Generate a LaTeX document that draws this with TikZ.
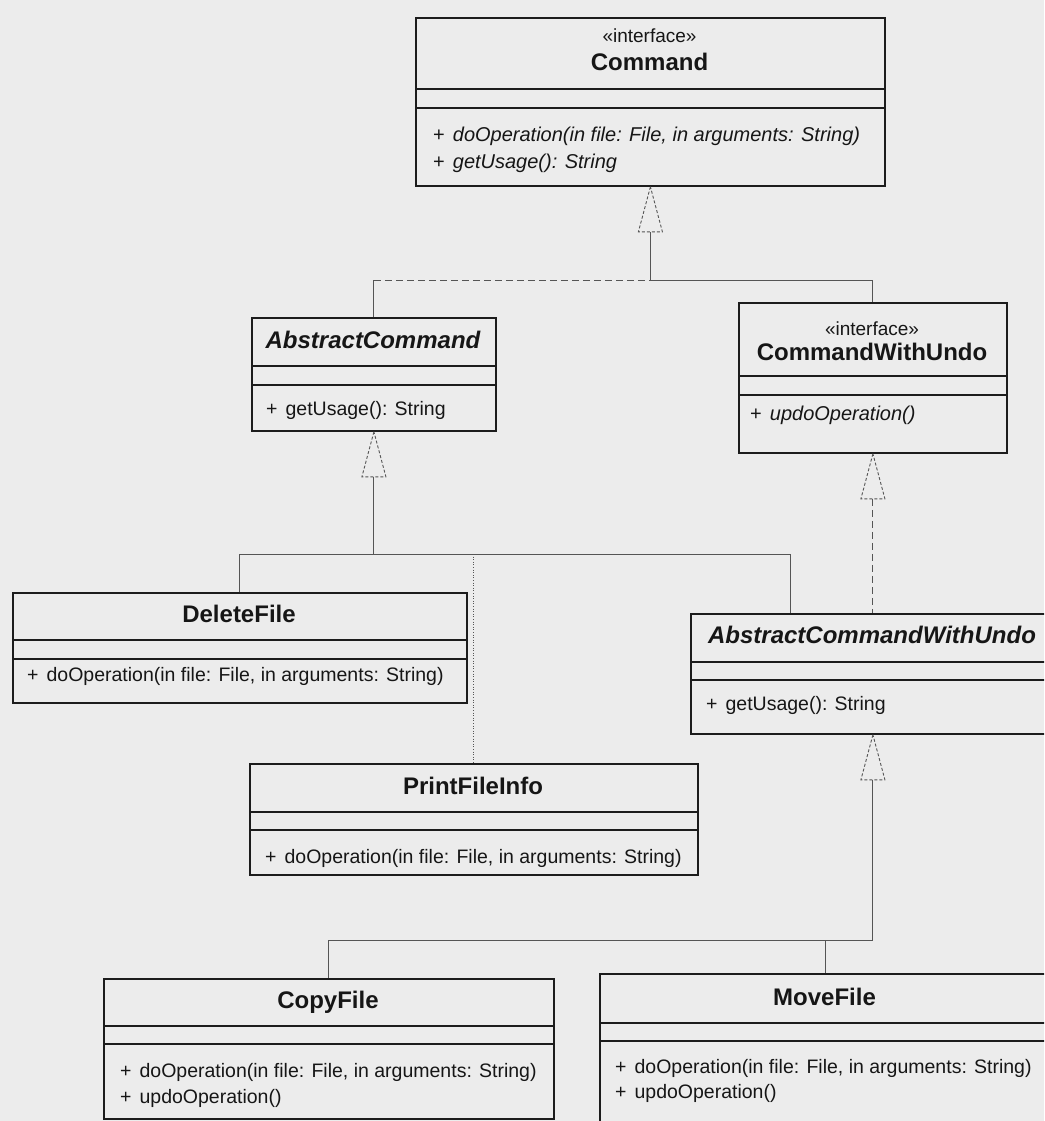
\documentclass[tikz,border=0pt]{standalone}
\usepackage{fontspec}
\setmainfont{Liberation Sans}
\usetikzlibrary{calc}
\definecolor{bgcol}{RGB}{236,236,236}
\definecolor{boxcol}{RGB}{28,28,28}
\definecolor{txtcol}{RGB}{22,22,22}
\definecolor{conncol}{RGB}{85,85,85}
\newcommand\umlbox[7]{%
  \node[classbox, minimum width={(#4-#2)*1pt}, minimum height={(#5-#3)*1pt}] (#1) at (#2,#3) {};
  \draw[compline] (#2,#6) -- (#4,#6);
  \draw[compline] (#2,#7) -- (#4,#7);
}
\newcommand\gentri[1]{\draw[tri] (#1.south) -- ++(-12,45) -- ++(24,0) -- cycle;}
\begin{document}
\begin{tikzpicture}[x=1pt,y=-1pt,
  classbox/.style={draw=boxcol, line width=1.8pt, inner sep=0pt, anchor=north west},
  compline/.style={draw=boxcol, line width=1.5pt},
  conn/.style={draw=conncol, line width=0.9pt},
  dashconn/.style={conn, dash pattern=on 7pt off 4pt},
  dotconn/.style={conn, dash pattern=on 1pt off 1.6pt},
  tri/.style={draw=conncol, line width=0.9pt, dash pattern=on 3pt off 2pt, fill=bgcol},
  nm/.style={font=\fontsize{24}{28}\selectfont\bfseries, anchor=base, text=txtcol, inner sep=0pt},
  abnm/.style={font=\fontsize{24}{28}\selectfont\bfseries\itshape, anchor=base, text=txtcol, inner sep=0pt},
  st/.style={font=\fontsize{19}{22}\selectfont, anchor=base, text=txtcol, inner sep=0pt},
  op/.style={font=\fontsize{19.5}{22}\selectfont, anchor=base west, text=txtcol, inner sep=0pt},
  iop/.style={font=\fontsize{20}{22}\selectfont, anchor=base west, text=txtcol, inner sep=0pt}
]
\useasboundingbox (0,0) rectangle (1044,1121);
\fill[bgcol] (0,0) rectangle (1044,1121);
\clip (0,0) rectangle (1044,1121);

% class boxes
\umlbox{Cmd}{415}{17}{884}{185}{89}{108}
\umlbox{AC}{251}{317}{495}{430}{366}{385}
\umlbox{CWU}{738}{302}{1006}{452}{376}{395}
\umlbox{ACWU}{690}{613}{1054}{733}{662}{680}
\umlbox{DF}{12}{592}{466}{702}{640}{659}
\umlbox{PFI}{249}{763}{697}{874}{812}{830}
\umlbox{CF}{103}{978}{553}{1118}{1026}{1044}
\umlbox{MF}{599}{973}{1050}{1135}{1023}{1041}

% texts
\node[st] (cmdst) at (649.5,43) {«interface»};
\node[nm] (cmdnm) at (649.5,71) {Command};
\node[iop] (cmdop1) at (433,142) {\upshape+\hspace{8pt}\itshape doOperation(in file: File, in arguments: String)};
\node[iop] (cmdop2) at (433,168) {\upshape+\hspace{8pt}\itshape getUsage(): String};

\node[abnm] (acnm) at (373,348) {AbstractCommand};
\node[op] (acop) at (266,415) {+\hspace{8pt}getUsage(): String};

\node[st] (cwust) at (872,335) {«interface»};
\node[nm] (cwunm) at (872,360) {CommandWithUndo};
\node[iop] (cwuop) at (750,420) {\upshape+\hspace{8pt}\itshape updoOperation()};

\node[abnm] (acwunm) at (872,643) {AbstractCommandWithUndo};
\node[op] (acwuop) at (706,710) {+\hspace{8pt}getUsage(): String};

\node[nm] (dfnm) at (239,622) {DeleteFile};
\node[op] (dfop) at (27,681) {+\hspace{8pt}doOperation(in file: File, in arguments: String)};

\node[nm] (pfinm) at (473,794) {PrintFileInfo};
\node[op] (pfiop) at (265,863) {+\hspace{8pt}doOperation(in file: File, in arguments: String)};

\node[nm] (cfnm) at (328,1008) {CopyFile};
\node[op] (cfop1) at (120,1077) {+\hspace{8pt}doOperation(in file: File, in arguments: String)};
\node[op] (cfop2) at (120,1103) {+\hspace{8pt}updoOperation()};

\node[nm] (mfnm) at (824.5,1005) {MoveFile};
\node[op] (mfop1) at (615,1073) {+\hspace{8pt}doOperation(in file: File, in arguments: String)};
\node[op] (mfop2) at (615,1098) {+\hspace{8pt}updoOperation()};

% helper levels
\coordinate (y280) at (0,280);
\coordinate (y554) at (0,554);
\coordinate (y940) at (0,940);
\coordinate (j1) at (Cmd.south |- y280);
\coordinate (j2) at (AC.south |- y554);
\coordinate (j3) at (ACWU.south |- y940);
\coordinate (acwuin) at ($(ACWU.north west)+(100,0)$);

% realization to Command
\draw[conn] (AC.north) -- (AC.north |- j1);
\draw[dashconn] (AC.north |- j1) -- (j1);
\draw[conn] (CWU.north) -- (CWU.north |- j1) -- (j1);
\draw[conn] ($(Cmd.south)+(0,45)$) -- (j1);
\gentri{Cmd}

% generalization to AbstractCommand
\draw[conn] ($(AC.south)+(0,45)$) -- (j2);
\draw[conn] (DF.north) -- (DF.north |- j2) -- (acwuin |- j2) -- (acwuin);
\draw[dotconn] (PFI.north |- j2) -- (PFI.north);
\gentri{AC}

% realization to CommandWithUndo
\draw[dashconn] ($(CWU.south)+(0,45)$) -- (ACWU.north);
\gentri{CWU}

% generalization to AbstractCommandWithUndo
\draw[conn] ($(ACWU.south)+(0,45)$) -- (j3);
\draw[conn] (CF.north) -- (CF.north |- j3) -- (j3);
\draw[conn] (MF.north) -- (MF.north |- j3);
\gentri{ACWU}
\end{tikzpicture}
\end{document}
